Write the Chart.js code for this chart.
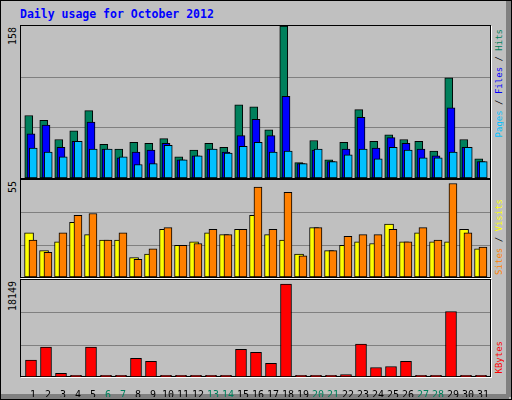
<!DOCTYPE html>
<html><head><meta charset="utf-8">
<script src="https://cdn.jsdelivr.net/npm/chart.js@4"></script>
<style>
body{margin:0;width:512px;height:400px;overflow:hidden;background:#fff}
#frame{position:absolute;left:0;top:0;width:510px;height:398px;border:1px solid #000;background:#c0c0c0}
#bevR{position:absolute;right:1px;top:1px;width:5px;height:396px;background:#808080}
#bevB{position:absolute;left:1px;bottom:1px;height:5px;width:508px;background:#808080}
.panel{position:absolute;border:1px solid #000;box-shadow:1px 1px 0 #fff}
canvas{position:absolute}
.vt{position:absolute;writing-mode:vertical-rl;transform:rotate(180deg);font-family:"DejaVu Sans Mono",monospace;font-size:9px;white-space:nowrap;line-height:9px}
#title{position:absolute;left:20px;top:7px;font:bold 11.5px "DejaVu Sans Mono",monospace;color:#0000ff}
</style></head><body>
<div id="frame"></div><div id="bevR"></div><div id="bevB"></div>
<div id="title">Daily usage for October 2012</div>
<div class="panel" style="left:20px;top:25px;width:469px;height:152px"></div>
<div class="panel" style="left:20px;top:179px;width:469px;height:97px"></div>
<div class="panel" style="left:20px;top:279px;width:469px;height:96px"></div>
<canvas id="c1" width="469" height="152" style="left:21px;top:26px"></canvas>
<canvas id="c2" width="469" height="97" style="left:21px;top:180px"></canvas>
<canvas id="c3" width="469" height="117" style="left:21px;top:280px"></canvas>
<div class="vt" style="left:8px;top:27px;font-size:10px;color:#000">158</div>
<div class="vt" style="left:8px;top:181px;font-size:10px;color:#000">55</div>
<div class="vt" style="left:8px;top:281px;font-size:10px;color:#000">18149</div>
<div class="vt" style="left:495px;top:29px"><span style="color:#00c0ff">Pages</span><span style="color:#000"> / </span><span style="color:#0000ff">Files</span><span style="color:#000"> / </span><span style="color:#00805c">Hits</span></div>
<div class="vt" style="left:495px;top:199px"><span style="color:#ff8000">Sites</span><span style="color:#000"> / </span><span style="color:#ffff00">Visits</span></div>
<div class="vt" style="left:495px;top:341px;color:#ff0000">KBytes</div>
<script>
const days=[1,2,3,4,5,6,7,8,9,10,11,12,13,14,15,16,17,18,19,20,21,22,23,24,25,26,27,28,29,30,31];
const weekend=[6,7,13,14,20,21,27,28];
const hits=[65,60,40,49,70,35,30,37,36,41,22,29,36,32,76,74,50,158,16,39,19,37,71,38,45,40,38,28,104,40,20];
const files=[46,55,32,38,58,30,21,27,29,36,19,23,30,27,44,61,44,85,15,29,17,30,63,31,42,36,30,23,73,32,17];
const pages=[31,27,22,38,30,30,22,14,15,34,19,23,30,26,33,37,27,28,15,30,17,24,30,20,32,29,21,21,27,32,17];
const visits=[25,15,20,31,24,21,21,11,13,27,18,20,25,24,27,35,24,21,13,28,15,18,20,19,30,20,25,20,20,27,16];
const sites=[21,14,25,35,36,21,25,10,16,28,18,19,27,24,27,51,27,48,12,28,15,23,24,24,27,20,28,21,53,25,17];
const kbytes=[3170,5580,700,300,5580,300,300,3490,2920,300,300,300,300,300,5200,4630,2540,17400,300,300,300,440,6160,1780,1970,2920,300,300,12250,300,300];
const maxes=[158,55,18149];

const gridPlugin={id:'grid3',beforeDatasetsDraw(chart){
  const y=chart.scales.y,a=chart.chartArea,ctx=chart.ctx;
  ctx.save();ctx.strokeStyle='#808080';ctx.lineWidth=1;
  [y.max/3,2*y.max/3].forEach(v=>{const p=Math.round(y.getPixelForValue(v))+0.5;
    ctx.beginPath();ctx.moveTo(a.left,p);ctx.lineTo(a.right,p);ctx.stroke();});
  ctx.restore();}};
function pts(arr,off){return arr.map((v,i)=>({x:days[i]+off,y:v}));}
function ds(arr,off,color,w){return {data:pts(arr,off),backgroundColor:color,borderColor:'#000',borderWidth:1,barThickness:w,grouped:false,borderSkipped:false};}
function opts(max,showX){
  return {animation:false,responsive:false,devicePixelRatio:1,
    layout:{padding:0},
    plugins:{legend:{display:false},tooltip:{enabled:false}},
    scales:{
      x:{type:'linear',min:0.333,max:31.6,display:showX,offset:false,
        afterBuildTicks:s=>{s.ticks=days.map(v=>({value:v+0.13}));},
        afterFit:s=>{if(showX){s.height=20;s.paddingLeft=0;s.paddingRight=0;}},
        grid:{display:false,offset:false},border:{display:false},
        ticks:{autoSkip:false,maxRotation:0,padding:4,font:{family:'DejaVu Sans Mono',size:10},
          color:c=>weekend.includes(Math.round(c.tick.value))?'#00805c':'#000',
          callback:v=>String(Math.round(v))}},
      y:{min:0,max:max,display:false}}};
}
new Chart(document.getElementById('c1'),{type:'bar',data:{datasets:[
  ds(pages,0.15,'#00c0ff',8),ds(files,0,'#0000ff',8),ds(hits,-0.15,'#00805c',8)]},options:opts(maxes[0],false),plugins:[gridPlugin]});
new Chart(document.getElementById('c2'),{type:'bar',data:{datasets:[
  ds(sites,0.13,'#ff8000',8),ds(visits,-0.13,'#ffff00',9)]},options:opts(maxes[1],false),plugins:[gridPlugin]});
new Chart(document.getElementById('c3'),{type:'bar',data:{datasets:[
  ds(kbytes,0,'#ff0000',11)]},options:opts(maxes[2],true),plugins:[gridPlugin]});
</script>
</body></html>
